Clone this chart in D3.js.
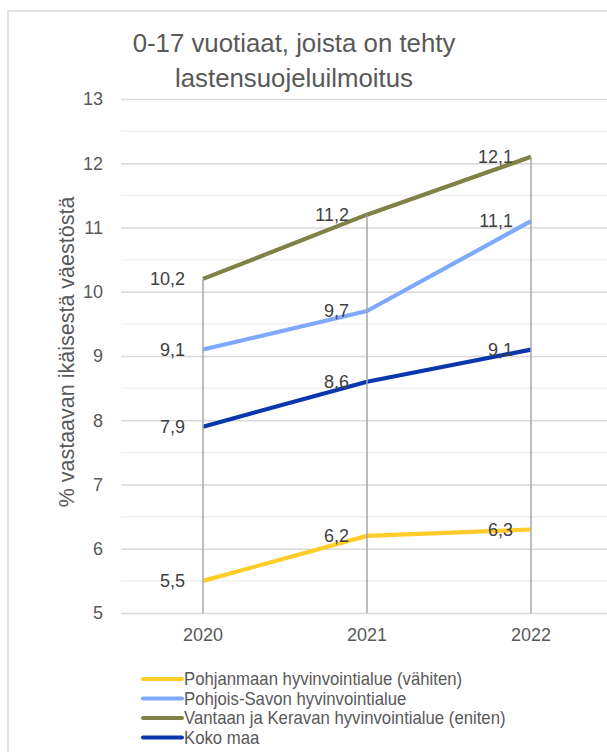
<!DOCTYPE html>
<html>
<head>
<meta charset="utf-8">
<script src="https://cdn.jsdelivr.net/npm/d3@7"></script>
<style>
  html, body { margin: 0; padding: 0; background: #fff; }
  svg { display: block; font-family: "Liberation Sans", Arial, sans-serif; }
</style>
</head>
<body>
<svg id="chart" width="607" height="752"></svg>
<script>
// Years on the x axis
const years = ["2020", "2021", "2022"];

// Share of 0-17 year olds with a child welfare notification (%)
const pohjanmaa = [5.5, 6.2, 6.3];
const pohjoisSavo = [9.1, 9.7, 11.1];
const vantaaKerava = [10.2, 11.2, 12.1];
const kokoMaa = [7.9, 8.6, 9.1];

const seriesNames = [
  "Pohjanmaan hyvinvointialue (vähiten)",
  "Pohjois-Savon hyvinvointialue",
  "Vantaan ja Keravan hyvinvointialue (eniten)",
  "Koko maa"
];
const seriesColors = ["#FFCC2A", "#7FA8FF", "#7F8146", "#0A36AE"];

const yTicks = [5, 6, 7, 8, 9, 10, 11, 12, 13];
const yMinorTicks = [5.5, 6.5, 7.5, 8.5, 9.5, 10.5, 11.5, 12.5];

const titleLines = ["0-17 vuotiaat, joista on tehty", "lastensuojeluilmoitus"];
const yAxisTitle = "% vastaavan ikäisestä väestöstä";

const series = [pohjanmaa, pohjoisSavo, vantaaKerava, kokoMaa].map((vals, i) => ({
  name: seriesNames[i],
  color: seriesColors[i],
  values: vals
}));

const svg = d3.select("#chart");
const textColor = "#595959";
const fontFamily = "Liberation Sans, Arial, sans-serif";

// Chart frame
svg.append("path")
  .attr("d", "M8,752 L8,11 L607,11")
  .attr("fill", "none")
  .attr("stroke", "#d9d9d9")
  .attr("stroke-width", 1.5);

// Title
svg.append("g").selectAll("text")
  .data(titleLines)
  .join("text")
  .attr("x", 294)
  .attr("y", (d, i) => 52 + i * 35)
  .attr("text-anchor", "middle")
  .attr("font-size", 25.8)
  .attr("fill", textColor)
  .text(d => d);

const x = d3.scaleBand().domain(years).range([121, 613]);
const xc = d => x(d) + x.bandwidth() / 2;
const y = d3.scaleLinear().domain([5, 13]).range([613, 99]);

// Minor gridlines
svg.append("g").selectAll("line")
  .data(yMinorTicks)
  .join("line")
  .attr("x1", 121).attr("x2", 607)
  .attr("y1", d => y(d)).attr("y2", d => y(d))
  .attr("stroke", "#f0f0f0")
  .attr("stroke-width", 1.5);

// Y axis with major gridlines
const yAxis = svg.append("g")
  .attr("transform", "translate(121,0)")
  .call(d3.axisLeft(y).tickValues(yTicks).tickSize(-486).tickPadding(18).tickFormat(d3.format("d")));
yAxis.select(".domain").remove();
yAxis.selectAll(".tick line").attr("stroke", "#d9d9d9").attr("stroke-width", 1.5);
yAxis.selectAll(".tick text")
  .attr("font-size", 18)
  .attr("fill", textColor)
  .attr("font-family", fontFamily);

// X axis labels
const xAxis = svg.append("g")
  .attr("transform", "translate(0,613)")
  .call(d3.axisBottom(x).tickSize(0).tickPadding(15));
xAxis.select(".domain").remove();
xAxis.selectAll(".tick text")
  .attr("font-size", 18)
  .attr("fill", textColor)
  .attr("font-family", fontFamily);

// Y axis title
svg.append("text")
  .attr("transform", "translate(74,352) rotate(-90)")
  .attr("text-anchor", "middle")
  .attr("font-size", 21.5)
  .attr("fill", textColor)
  .text(yAxisTitle);

// Series lines
const line = d3.line()
  .x((d, i) => xc(years[i]))
  .y(d => y(d));

svg.append("g").selectAll("path")
  .data(series)
  .join("path")
  .attr("d", s => line(s.values))
  .attr("fill", "none")
  .attr("stroke", s => s.color)
  .attr("stroke-width", 4.2)
  .attr("stroke-linejoin", "round");

// Drop lines from the highest value to the axis
svg.append("g").selectAll("line")
  .data(years)
  .join("line")
  .attr("x1", d => xc(d)).attr("x2", d => xc(d))
  .attr("y1", (d, i) => y(d3.max(series, s => s.values[i])))
  .attr("y2", y(5))
  .attr("stroke", "#a6a6a6")
  .attr("stroke-width", 1.5);

// Data labels to the left of each point
const fmt = v => d3.format(".1f")(v).replace(".", ",");
series.forEach(s => {
  svg.append("g").selectAll("text")
    .data(s.values)
    .join("text")
    .attr("x", (d, i) => xc(years[i]) - 18)
    .attr("y", d => y(d))
    .attr("dy", "0.35em")
    .attr("text-anchor", "end")
    .attr("font-size", 18)
    .attr("fill", "#404040")
    .text(d => fmt(d));
});

// Legend: slightly narrowed text, as in a condensed legend box
const legend = svg.append("g").selectAll("g")
  .data(series)
  .join("g")
  .attr("transform", (d, i) => `translate(143,${679 + i * 19.5})`);
legend.append("line")
  .attr("x1", 0).attr("x2", 39)
  .attr("stroke", d => d.color)
  .attr("stroke-width", 4)
  .attr("stroke-linecap", "round");
legend.append("text")
  .attr("transform", "translate(41,0) scale(0.93,1)")
  .attr("dy", "0.35em")
  .attr("font-size", 18)
  .attr("fill", textColor)
  .text(d => d.name);
</script>
</body>
</html>
